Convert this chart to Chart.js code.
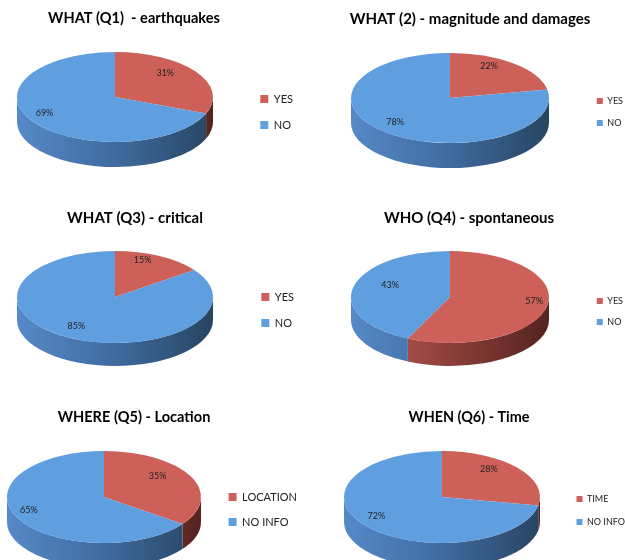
<!DOCTYPE html>
<html><head><meta charset="utf-8">
<script src="https://cdn.jsdelivr.net/npm/chart.js@4.4.1/dist/chart.umd.min.js"></script>
<style>
html,body{margin:0;padding:0;background:#fff;}
#wrap{position:relative;width:625px;height:560px;overflow:hidden;background:#fff;}
#wrap canvas{position:absolute;}
</style></head><body><div id="wrap"></div>
<script>
// ---- data ----
const chartTitles = ['WHAT (Q1)  - earthquakes', 'WHAT (2) - magnitude and damages', 'WHAT (Q3) - critical', 'WHO (Q4) - spontaneous', 'WHERE (Q5) - Location', 'WHEN (Q6) - Time'];
const yesNoLabels = ['YES', 'NO'];
const locationLabels = ['LOCATION', 'NO INFO'];
const timeLabels = ['TIME', 'NO INFO'];
const q1Values = [31, 69];
const q2Values = [22, 78];
const q3Values = [15, 85];
const q4Values = [57, 43];
const q5Values = [35, 65];
const q6Values = [28, 72];

// ---- styles ----
const sliceColors = ['#cd615a', '#609fdf'];
const sideStops = [
  ['#c25c55', '#8c3f3a', '#55231f'],
  ['#5689c8', '#3f6ba0', '#284562']
];

// ---- layout (page px) ----
const layouts = [
  {titleX:134, titleY:19,  titleSize:14.6, cx:115, cy:97,  rx:98, ry:45, depth:25, legX:260, legY1:99,  legY2:125, legFont:11, box:8},
  {titleX:470, titleY:19,  titleSize:15,   cx:450, cy:98,  rx:99, ry:45, depth:25, legX:597, legY1:101, legY2:123, legFont:9,  box:6},
  {titleX:135, titleY:218, titleSize:15,   cx:115, cy:297, rx:98, ry:46, depth:23, legX:261, legY1:297, legY2:323, legFont:11, box:8},
  {titleX:469, titleY:218, titleSize:15,   cx:450, cy:297, rx:99, ry:46, depth:23, legX:597, legY1:301, legY2:322, legFont:9,  box:6},
  {titleX:134, titleY:418, titleSize:14.6, cx:104, cy:497, rx:97, ry:46, depth:25, legX:229, legY1:497, legY2:522, legFont:11, box:8},
  {titleX:469, titleY:418, titleSize:14.4, cx:442, cy:497, rx:98, ry:46, depth:25, legX:576, legY1:499, legY2:522, legFont:9,  box:6}
];
const chartDefs = [
  {title: chartTitles[0], labels: yesNoLabels, values: q1Values},
  {title: chartTitles[1], labels: yesNoLabels, values: q2Values},
  {title: chartTitles[2], labels: yesNoLabels, values: q3Values},
  {title: chartTitles[3], labels: yesNoLabels, values: q4Values},
  {title: chartTitles[4], labels: locationLabels, values: q5Values},
  {title: chartTitles[5], labels: timeLabels, values: q6Values}
];

const FONT = 'Lato';
const TITLE_PAD = 8;

const pie3d = {
  id: 'pie3d',
  beforeDatasetsDraw(chart, args, o) {
    const ctx = chart.ctx;
    const arcs = chart.getDatasetMeta(0).data;
    chart.$pieSaved = false;
    if (!arcs.length) return;
    const r = arcs[0].outerRadius, ox = arcs[0].x, oy = arcs[0].y;
    arcs.forEach((arc, i) => {
      const a1 = Math.max(arc.startAngle, 0), a2 = Math.min(arc.endAngle, Math.PI);
      if (a2 <= a1) return;
      const g = ctx.createLinearGradient(o.cx - o.rx, 0, o.cx + o.rx, 0);
      const st = sideStops[i % sideStops.length];
      st.forEach((c, k) => g.addColorStop(k / (st.length - 1), c));
      ctx.save();
      ctx.beginPath();
      ctx.ellipse(o.cx, o.cy, o.rx, o.ry, 0, a1, a2, false);
      ctx.ellipse(o.cx, o.cy + o.depth, o.rx, o.ry, 0, a2, a1, true);
      ctx.closePath();
      ctx.fillStyle = g;
      ctx.fill();
      ctx.restore();
    });
    ctx.save();
    ctx.translate(o.cx, o.cy);
    ctx.scale(o.rx / r, o.ry / r);
    ctx.translate(-ox, -oy);
    chart.$pieSaved = true;
  },
  afterDatasetsDraw(chart, args, o) {
    const ctx = chart.ctx;
    if (chart.$pieSaved) ctx.restore();
    const arcs = chart.getDatasetMeta(0).data;
    const vals = chart.data.datasets[0].data;
    const total = vals.reduce((a, b) => a + b, 0);
    ctx.save();
    ctx.font = '9px ' + FONT;
    ctx.fillStyle = '#222';
    ctx.textAlign = 'center';
    ctx.textBaseline = 'middle';
    arcs.forEach((arc, i) => {
      const share = vals[i] / total;
      const m = (arc.startAngle + arc.endAngle) / 2;
      const fx = share >= 0.5 ? 0.87 : 0.62;
      const x = o.cx + o.rx * fx * Math.cos(m);
      const y = o.cy - 4 + o.ry * 0.8 * Math.sin(m);
      ctx.fillText(Math.round(share * 100) + '%', x, y);
    });
    ctx.restore();
  }
};

const wrap = document.getElementById('wrap');
const meas = document.createElement('canvas').getContext('2d');

chartDefs.forEach((def, idx) => {
  const L = layouts[idx];
  meas.font = L.legFont + 'px ' + FONT;
  const tw = Math.max(...def.labels.map(t => meas.measureText(t).width));
  const itemW = L.box + L.legFont / 2 + tw;
  const right = Math.round(L.legX + itemW + 10);
  const left = Math.round(2 * L.titleX - right);
  const width = right - left;
  const lh = L.titleSize * 1.2;
  const top = Math.round(L.titleY - TITLE_PAD - lh / 2);
  const mid = (L.legY1 + L.legY2) / 2;
  const height = Math.round(2 * (mid - top));
  const legPad = (L.legY2 - L.legY1) - Math.max(L.legFont, L.box);

  const cv = document.createElement('canvas');
  cv.width = width; cv.height = height;
  cv.style.left = left + 'px'; cv.style.top = top + 'px';
  cv.style.width = width + 'px'; cv.style.height = height + 'px';
  wrap.appendChild(cv);

  new Chart(cv, {
    type: 'pie',
    data: {
      labels: def.labels,
      datasets: [{ data: def.values, backgroundColor: sliceColors, borderWidth: 0, clip: false }]
    },
    plugins: [pie3d],
    options: {
      responsive: false,
      animation: false,
      devicePixelRatio: 1,
      events: [],
      layout: { padding: 0 },
      plugins: {
        title: {
          display: true, text: def.title, color: '#000',
          font: { family: FONT, size: L.titleSize, weight: 'bold', lineHeight: 1.2 },
          padding: { top: TITLE_PAD, bottom: TITLE_PAD }
        },
        legend: {
          position: 'right',
          labels: {
            boxWidth: L.box, boxHeight: L.box, padding: legPad, color: '#222',
            font: { family: FONT, size: L.legFont }
          }
        },
        tooltip: { enabled: false },
        pie3d: { cx: L.cx - left, cy: L.cy - top, rx: L.rx, ry: L.ry, depth: L.depth }
      }
    }
  });
});
</script>
</body></html>
